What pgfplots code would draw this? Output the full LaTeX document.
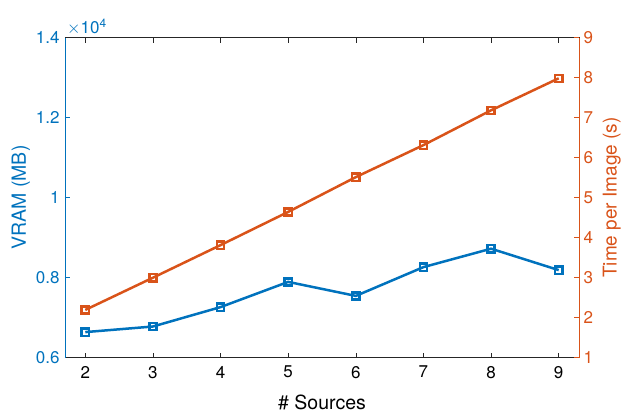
\documentclass[border=0pt]{standalone}
\usepackage{fontspec}
\setmainfont{TeX Gyre Heros}
\usepackage{pgfplots}
\pgfplotsset{compat=1.18}
\definecolor{mblue}{rgb}{0,0.447,0.741}
\definecolor{morange}{rgb}{0.85,0.325,0.098}
\definecolor{mgray}{rgb}{0.15,0.15,0.15}
\begin{document}
\begin{tikzpicture}
\useasboundingbox (-65pt,-55.3pt) rectangle (557pt,357.5pt);
\pgfplotsset{every axis/.append style={
  scale only axis, width=514pt, height=320pt,
  xmin=1.7, xmax=9.3,
  font=\fontsize{17}{20}\selectfont,
  tick align=inside, major tick length=5pt,
  /pgf/number format/assume math mode=true,
  clip=false}}
\begin{axis}[
  axis lines=box,
  axis line style={mgray, line width=0.6pt},
  xtick={2,...,9}, xtick pos=both,
  x tick style={mgray, line width=0.6pt},
  xticklabel style={yshift=-5pt},
  ymin=6000, ymax=14000,
  ytick={6000,8000,10000,12000,14000},
  yticklabels={0.6,0.8,1,1.2,1.4},
  scaled y ticks=false,
  ytick pos=left,
  y tick style={mblue, line width=0.6pt},
  yticklabel style={text=mblue, xshift=-2pt},
  xlabel={\# Sources},
  xlabel style={font=\fontsize{19.5}{22}\selectfont, at={([yshift=-52.3pt]axis description cs:0.5,0)}, anchor=base},
  ylabel={VRAM (MB)},
  ylabel style={text=mblue, font=\fontsize{19.5}{22}\selectfont, at={([xshift=-39pt]axis description cs:0,0.5)}, rotate=0, anchor=base},
]
\addplot[mblue, line width=2.5pt, mark=square, mark size=3.6pt, mark options={line width=2.4pt, fill=white}]
  coordinates {(2,6635) (3,6775) (4,7260) (5,7890) (6,7540) (7,8260) (8,8720) (9,8185)};
\draw[mblue, line width=0.6pt] (rel axis cs:0,0) -- (rel axis cs:0,1);
\node[anchor=base west, text=mblue, inner sep=0pt] at ([xshift=2pt,yshift=4.2pt]rel axis cs:0,1) {$\times$10\textsuperscript{4}};
\end{axis}
\begin{axis}[
  axis y line*=right, axis x line=none,
  ymin=1, ymax=9, ytick={1,...,9},
  y axis line style={morange, line width=0.6pt},
  y tick style={morange, line width=0.6pt},
  yticklabel style={text=morange, xshift=1pt},
  ylabel={Time per Image (s)},
  ylabel style={text=morange, font=\fontsize{19}{22}\selectfont, at={([xshift=37.5pt]axis description cs:1,0.5)}, rotate=0, anchor=base},
]
\addplot[morange, line width=2.5pt, mark=square, mark size=3.6pt, mark options={line width=2.4pt, fill=white}]
  coordinates {(2,2.19) (3,2.995) (4,3.81) (5,4.64) (6,5.51) (7,6.31) (8,7.18) (9,7.98)};
\end{axis}
\end{tikzpicture}
\end{document}
